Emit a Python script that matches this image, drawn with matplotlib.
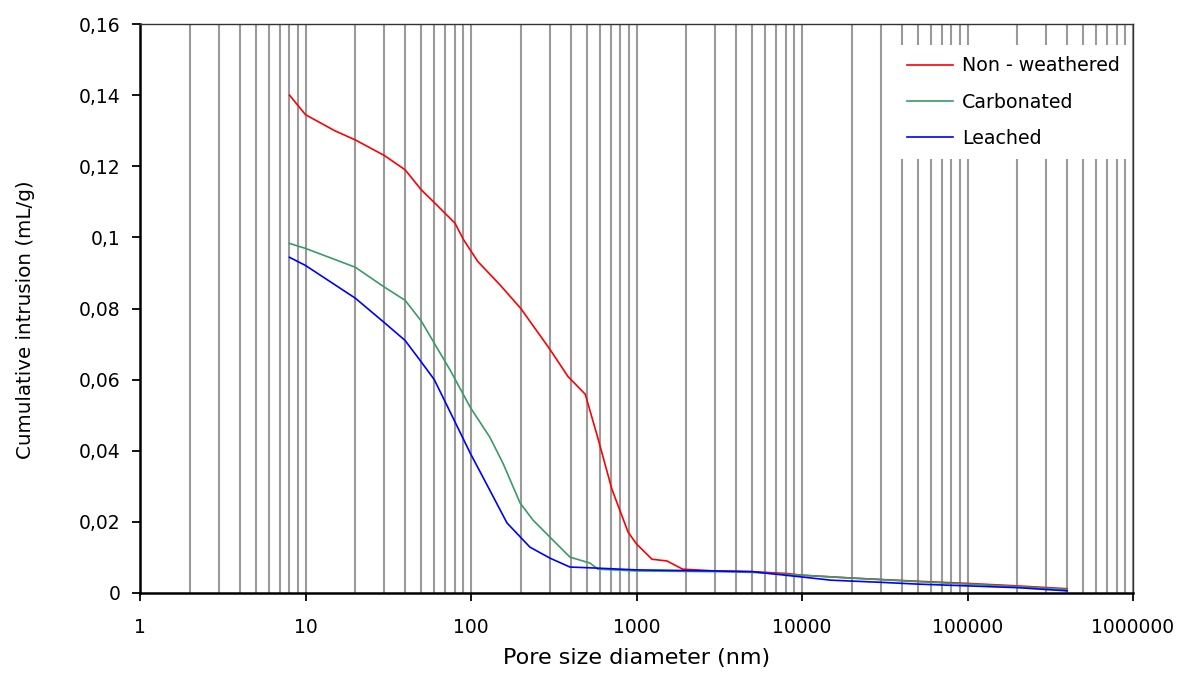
import matplotlib
matplotlib.use('Agg')
import matplotlib.pyplot as plt
from matplotlib.ticker import FuncFormatter, LogLocator, NullFormatter

# Pore size diameter (nm) / cumulative intrusion (mL/g)
red_x = [8, 10, 15, 20, 30, 40, 50, 60, 80, 90, 110, 150, 200, 300, 385, 490,
         580, 710, 890, 1000, 1240, 1530, 1900, 3000, 5000, 8000, 10000,
         20000, 30000, 50000, 100000, 200000, 400000]
red_y = [0.140, 0.1345, 0.130, 0.1274, 0.123, 0.119, 0.1134, 0.1098, 0.104,
         0.0994, 0.0932, 0.0866, 0.080, 0.0685, 0.0609, 0.0559, 0.0441, 0.0292,
         0.0171, 0.0138, 0.0095, 0.0090, 0.0067, 0.0062, 0.0060, 0.0055, 0.0050,
         0.0042, 0.0038, 0.0033, 0.0027, 0.0020, 0.0012]

green_x = [8, 10, 20, 30, 40, 50, 75, 99, 130, 156, 198, 237, 300, 396, 524,
           585, 1000, 3000, 5000, 10000, 20000, 50000, 100000, 200000, 400000]
green_y = [0.0983, 0.0969, 0.0916, 0.086, 0.0823, 0.0765, 0.0626, 0.0522,
           0.0438, 0.0365, 0.0253, 0.0205, 0.0157, 0.0101, 0.0084, 0.0067,
           0.0062, 0.0060, 0.0058, 0.0050, 0.0042, 0.0032, 0.0025, 0.0018, 0.0010]

blue_x = [8, 10, 20, 30, 40, 50, 60, 75, 99, 118, 165, 227, 300, 396, 577,
          1000, 3000, 5000, 10000, 15000, 30000, 50000, 100000, 200000, 400000]
blue_y = [0.0944, 0.0921, 0.0829, 0.076, 0.071, 0.065, 0.060, 0.0508, 0.0393,
          0.0326, 0.0197, 0.0129, 0.0098, 0.0073, 0.0070, 0.0065, 0.0062,
          0.0060, 0.0045, 0.0036, 0.0030, 0.0025, 0.0020, 0.0015, 0.0006]

labels = ['Non - weathered', 'Carbonated', 'Leached']
colors = ['#ff0000', '#3a9a68', '#0000ff']

plt.rcParams['font.family'] = ['DejaVu Sans']

fig = plt.figure(figsize=(11.89, 6.84), dpi=100)
ax = fig.add_axes([140 / 1189, 91 / 684, 993 / 1189, 569 / 684])

for xs, ys, lab, col in zip([red_x, green_x, blue_x], [red_y, green_y, blue_y],
                            labels, colors):
    ax.plot(xs, ys, color=col, lw=1.2, label=lab, zorder=3)

ax.set_xscale('log')
ax.set_xlim(1, 1e6)
ax.set_ylim(0, 0.16)
ax.set_yticks([0, 0.02, 0.04, 0.06, 0.08, 0.1, 0.12, 0.14, 0.16])

ax.xaxis.set_major_locator(LogLocator(base=10, numticks=10))
ax.xaxis.set_minor_locator(LogLocator(base=10, subs=range(2, 10), numticks=100))
ax.xaxis.set_minor_formatter(NullFormatter())
ax.xaxis.set_major_formatter(FuncFormatter(lambda v, p: f'{int(round(v))}'))


def comma_fmt(v, p):
    s = f'{v:.2f}'.rstrip('0').rstrip('.')
    return s.replace('.', ',')


ax.yaxis.set_major_formatter(FuncFormatter(comma_fmt))

ax.grid(True, which='both', axis='x', color='#9a9a9a', lw=1.5, zorder=1)
ax.set_axisbelow(True)

ax.tick_params(axis='both', which='major', direction='out', length=6, width=1.3,
               labelsize=13.5)
ax.tick_params(axis='x', which='major', pad=12)
ax.tick_params(axis='y', which='major', pad=8)
ax.tick_params(axis='x', which='minor', length=0)

for side in ['left', 'bottom']:
    ax.spines[side].set_linewidth(1.8)
    ax.spines[side].set_color('black')
for side in ['top', 'right']:
    ax.spines[side].set_linewidth(1.0)
    ax.spines[side].set_color('#333333')

ax.set_xlabel('Pore size diameter (nm)', fontsize=16, labelpad=8)
ax.set_ylabel('Cumulative intrusion (mL/g)', fontsize=14.3)
ax.yaxis.set_label_coords(-0.106, 0.48)

leg = ax.legend(loc='upper right', bbox_to_anchor=(0.998, 0.963), fontsize=13.7,
                frameon=True, fancybox=False, framealpha=1, facecolor='white',
                edgecolor='none', borderaxespad=0, handlelength=2.4,
                labelspacing=0.9, borderpad=0.6, handletextpad=0.45)
leg.set_zorder(5)

fig.savefig('out.png', dpi=100, facecolor='white')
